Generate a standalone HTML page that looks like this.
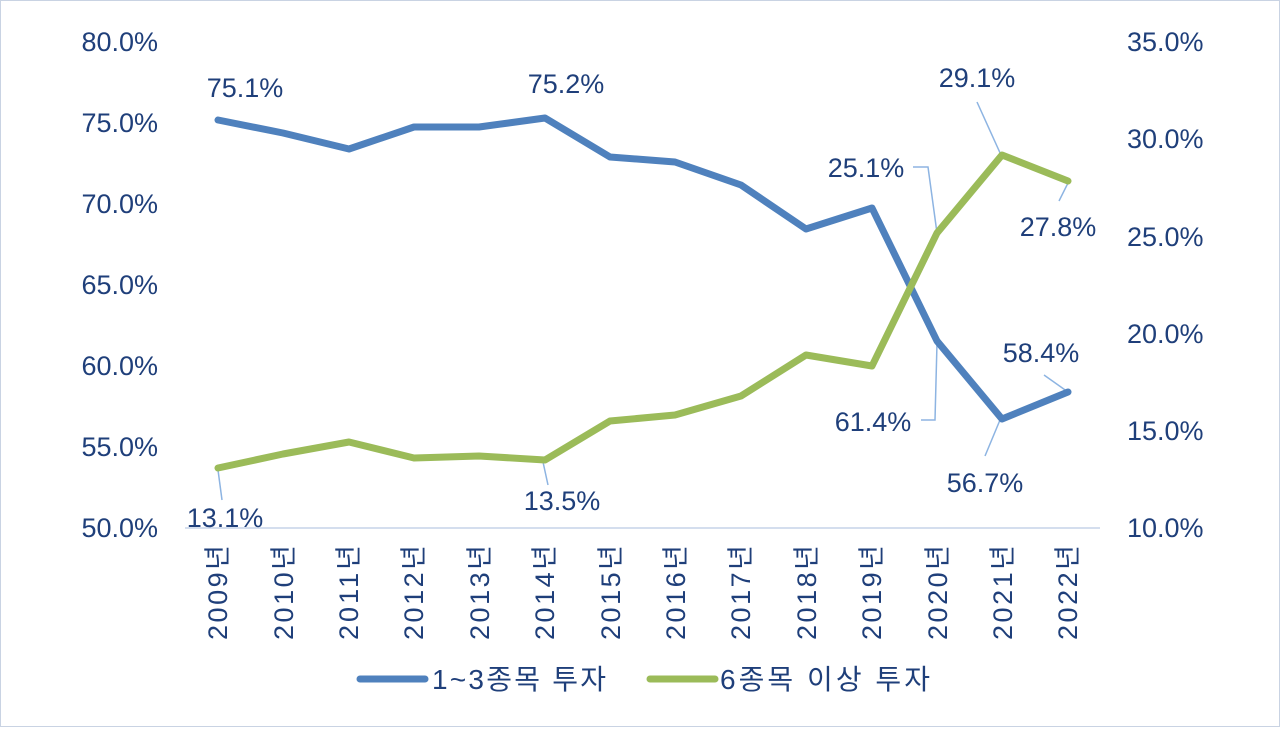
<!DOCTYPE html>
<html><head><meta charset="utf-8"><style>
body{margin:0;background:#fff}
svg text{font-family:"Liberation Sans","Noto Sans CJK KR",sans-serif;fill:#1F3F7A;font-size:27px}
</style></head><body>
<svg width="1280" height="727" viewBox="0 0 1280 727">
<rect x="0.5" y="0.5" width="1279" height="726" fill="#fff" stroke="#C9D3E3"/>
<g text-anchor="end">
<text x="158" y="51">80.0%</text><text x="158" y="132">75.0%</text><text x="158" y="213">70.0%</text><text x="158" y="294">65.0%</text><text x="158" y="375">60.0%</text><text x="158" y="456">55.0%</text><text x="158" y="537">50.0%</text>
</g>
<g text-anchor="start">
<text x="1127" y="51">35.0%</text><text x="1127" y="148">30.0%</text><text x="1127" y="246">25.0%</text><text x="1127" y="343">20.0%</text><text x="1127" y="440">15.0%</text><text x="1127" y="537">10.0%</text>
</g>
<line x1="185" y1="528" x2="1100" y2="528" stroke="#C5D3E8" stroke-width="1.5"/>
<g text-anchor="end" style="font-size:27px">
<text transform="translate(227,545) rotate(-90)" textLength="95">2009년</text>
<text transform="translate(293,545) rotate(-90)" textLength="95">2010년</text>
<text transform="translate(358,545) rotate(-90)" textLength="95">2011년</text>
<text transform="translate(423,545) rotate(-90)" textLength="95">2012년</text>
<text transform="translate(489,545) rotate(-90)" textLength="95">2013년</text>
<text transform="translate(554,545) rotate(-90)" textLength="95">2014년</text>
<text transform="translate(620,545) rotate(-90)" textLength="95">2015년</text>
<text transform="translate(685,545) rotate(-90)" textLength="95">2016년</text>
<text transform="translate(750,545) rotate(-90)" textLength="95">2017년</text>
<text transform="translate(816,545) rotate(-90)" textLength="95">2018년</text>
<text transform="translate(881,545) rotate(-90)" textLength="95">2019년</text>
<text transform="translate(947,545) rotate(-90)" textLength="95">2020년</text>
<text transform="translate(1012,545) rotate(-90)" textLength="95">2021년</text>
<text transform="translate(1077,545) rotate(-90)" textLength="95">2022년</text>
</g>
<g stroke="#8DB4E2" stroke-width="1.5" fill="none">
<polyline points="218,470 222,500"/>
<polyline points="913,167 928,167 937,233"/>
<polyline points="977,102 1001,155"/>
<polyline points="1068,183 1059,201"/>
<polyline points="921,420 935,420 937,343"/>
<polyline points="985,456 1000,420"/>
<polyline points="1044,375 1068,392"/>
<polyline points="543,462 548,485"/>
</g>
<polyline fill="none" stroke="#4F81BD" stroke-width="7" stroke-linejoin="round" stroke-linecap="round"
points="218,120 283,133 349,149 414,127 479,127 545,118 610,157 675,162 741,185 806,229 872,208 937,341 1002,419 1068,392"/>
<polyline fill="none" stroke="#9BBB59" stroke-width="7" stroke-linejoin="round" stroke-linecap="round"
points="218,468 283,454 349,442 414,458 479,456 545,460 610,421 675,415 741,396 806,355 872,366 937,233 1002,155 1068,181"/>
<g text-anchor="middle">
<text x="245" y="97">75.1%</text>
<text x="566" y="93">75.2%</text>
<text x="225" y="527">13.1%</text>
<text x="562" y="510">13.5%</text>
<text x="866" y="177">25.1%</text>
<text x="977" y="87">29.1%</text>
<text x="1058" y="236">27.8%</text>
<text x="873" y="431">61.4%</text>
<text x="985" y="492">56.7%</text>
<text x="1041" y="362">58.4%</text>
</g>
<line x1="360" y1="679" x2="425" y2="679" stroke="#4F81BD" stroke-width="7" stroke-linecap="round"/>
<text x="432" y="689" style="font-size:28px" textLength="174">1~3종목 투자</text>
<line x1="650" y1="679" x2="715" y2="679" stroke="#9BBB59" stroke-width="7" stroke-linecap="round"/>
<text x="720" y="689" style="font-size:28px" textLength="210">6종목 이상 투자</text>
</svg>
</body></html>
